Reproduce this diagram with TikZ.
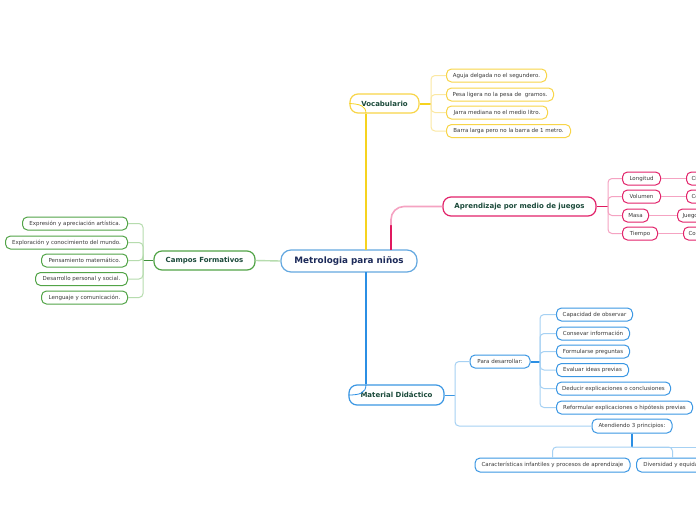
\documentclass[tikz,border=0pt]{standalone}
\usepackage{fontspec}
\setmainfont{DejaVu Sans}
\definecolor{rootb}{HTML}{64A8E0}
\definecolor{navy}{HTML}{1C2A59}
\definecolor{dkg}{HTML}{1B4A3A}
\definecolor{txt}{HTML}{3A3A3A}
\definecolor{bl}{HTML}{3B97E3}
\definecolor{blt}{HTML}{2B8FE4}
\definecolor{bll}{HTML}{A6D1F3}
\definecolor{yl}{HTML}{F8D548}
\definecolor{ylt}{HTML}{F6D31F}
\definecolor{yll}{HTML}{FBE8A3}
\definecolor{pk}{HTML}{E2236A}
\definecolor{pkt}{HTML}{E0195F}
\definecolor{pkl}{HTML}{F5A3C2}
\definecolor{gr}{HTML}{52A447}
\definecolor{grt}{HTML}{3F8F3A}
\definecolor{grl}{HTML}{B6DCAE}
\tikzset{
  leaf/.style={draw, fill=white, rounded corners=5pt, minimum height=13pt, inner sep=0pt,
    line width=1pt, text=txt, font=\fontsize{5.5}{6}\selectfont},
  cutleaf/.style={leaf, inner xsep=5pt, anchor=west},
  topic/.style={draw, fill=white, rounded corners=8pt, minimum height=19pt, inner sep=0pt,
    line width=1.2pt, text=dkg, font=\fontsize{7}{8}\selectfont\bfseries},
  rootnode/.style={draw=rootb, fill=white, rounded corners=10pt, minimum height=22pt, inner sep=0pt,
    line width=1.2pt, text=navy, font=\fontsize{8.8}{10}\selectfont\bfseries},
  ythick/.style={draw=ylt, line width=2.6pt},
  ylight/.style={draw=yll, line width=1pt, rounded corners=4pt},
  pthick/.style={draw=pkt, line width=2.6pt},
  plight/.style={draw=pkl, line width=1pt, rounded corners=4pt},
  bthick/.style={draw=blt, line width=2.6pt},
  blight/.style={draw=bll, line width=1pt, rounded corners=4pt},
  gthick/.style={draw=grt, line width=1.4pt},
  glight/.style={draw=grl, line width=1pt, rounded corners=4pt},
}
\begin{document}
\begin{tikzpicture}[x=1pt,y=-1pt]
\clip (0,0) rectangle (696,520);
\fill[white] (0,0) rectangle (696,520);

% coordinates
\coordinate (ty) at (366,250);
\coordinate (tb) at (366,272);
\coordinate (tp) at (391,250);
\coordinate (vj) at (431,103.5);
\coordinate (aj) at (608,206.5);
\coordinate (cj) at (143,260.5);
\coordinate (mj) at (455,395);
\coordinate (pj) at (540,361.5);
\coordinate (atj) at (632,447);
\coordinate (atend) at (700,447);

% ---------- nodes ----------
\node[rootnode, minimum width=136pt] (c) at (349,261) {Metrologia para niños};
\node[topic, draw=yl, minimum width=69pt] (voc) at (384.5,103.5) {Vocabulario};
\node[topic, draw=pk, minimum width=153pt] (ap) at (519.5,206.5) {Aprendizaje por medio de juegos};
\node[topic, draw=gr, minimum width=101pt] (cf) at (204.5,260.5) {Campos Formativos};
\node[topic, draw=bl, minimum width=95pt, minimum height=20pt] (md) at (396.5,395) {Material Didáctico};

% vocabulario leaves
\node[leaf, draw=yl, anchor=west, minimum width=100pt] (y1) at (446,75.5) {Aguja delgada no el segundero.};
\node[leaf, draw=yl, anchor=west, minimum width=107pt] (y2) at (446,94.5) {Pesa ligera no la pesa de \ gramos.};
\node[leaf, draw=yl, anchor=west, minimum width=101pt] (y3) at (446,112.5) {Jarra mediana no el medio litro.};
\node[leaf, draw=yl, anchor=west, minimum width=124pt] (y4) at (446,131) {Barra larga pero no la barra de 1 metro.};

% juegos leaves
\node[leaf, draw=pk, anchor=west, minimum width=38pt] (l1) at (622,178.5) {Longitud};
\node[leaf, draw=pk, anchor=west, minimum width=38pt] (l2) at (622,196.5) {Volumen};
\node[leaf, draw=pk, anchor=west, minimum width=26pt] (l3) at (622,215.5) {Masa};
\node[leaf, draw=pk, anchor=west, minimum width=35pt] (l4) at (622,233.5) {Tiempo};
\node[cutleaf, draw=pk] (g1) at (686,178.5) {Cinta métrica};
\node[cutleaf, draw=pk] (g2) at (686,196.5) {Contenedores};
\node[cutleaf, draw=pk] (g3) at (677,215.5) {Juegos de balanza};
\node[cutleaf, draw=pk] (g4) at (683,233.5) {Con reloj};

% campos leaves
\node[leaf, draw=gr, anchor=east, minimum width=105pt] (e1) at (128,223.5) {Expresión y apreciación artística.};
\node[leaf, draw=gr, anchor=east, minimum width=122pt] (e2) at (128,242.5) {Exploración y conocimiento del mundo.};
\node[leaf, draw=gr, anchor=east, minimum width=86pt] (e3) at (128,260.5) {Pensamiento matemático.};
\node[leaf, draw=gr, anchor=east, minimum width=92pt] (e4) at (128,279) {Desarrollo personal y social.};
\node[leaf, draw=gr, anchor=east, minimum width=86pt] (e5) at (128,297.5) {Lenguaje y comunicación.};

% material
\node[leaf, draw=bl, minimum width=60pt] (pd) at (500,361.5) {Para desarrollar:};
\node[leaf, draw=bl, anchor=west, minimum width=76pt] (b1) at (556,314.5) {Capacidad de observar};
\node[leaf, draw=bl, anchor=west, minimum width=73pt] (b2) at (556,333.5) {Consevar información};
\node[leaf, draw=bl, anchor=west, minimum width=73pt] (b3) at (556,351.5) {Formularse preguntas};
\node[leaf, draw=bl, anchor=west, minimum width=72pt] (b4) at (556,370) {Evaluar ideas previas};
\node[leaf, draw=bl, anchor=west, minimum width=114pt] (b5) at (556,388.5) {Deducir explicaciones o conclusiones};
\node[leaf, draw=bl, anchor=west, minimum width=136pt] (b6) at (556,407.5) {Reformular explicaciones o hipótesis previas};
\node[leaf, draw=bl, minimum width=80pt, minimum height=14pt] (at) at (632,426) {Atendiendo 3 principios:};
\node[leaf, draw=bl, minimum width=155pt, minimum height=14pt] (p1) at (552.5,465) {Características infantiles y procesos de aprendizaje};
\node[leaf, draw=bl, anchor=west, minimum width=72pt, minimum height=14pt] (p2) at (636,465) {Diversidad y equidad};

% ---------- connectors ----------
% trunks
\draw[ythick] (ty) -- (ty |- voc.south);
\draw[draw=ylt, line width=0.8pt] (ty |- voc.south) .. controls (366,106) and (360,104) .. (voc.west);
\draw[bthick] (tb) -- (tb |- md.north);
\draw[draw=blt, line width=0.8pt] (tb |- md.north) .. controls (366,393) and (360,395) .. (md.west);
\draw[pthick] (tp) -- (391,224);
\draw[draw=pkl, line width=1.6pt, rounded corners=13pt] (391,225) |- (ap.west);
\draw[draw=grl, line width=1.4pt] (c.west) -- (cf.east);

% vocabulario
\draw[ythick, line width=2pt] (voc.east) -- (vj);
\foreach \n in {y1,y2,y3,y4} \draw[ylight] (vj) |- (\n.west);

% juegos
\draw[pthick, line width=1.6pt] (ap.east) -- (aj);
\foreach \n in {l1,l2,l3,l4} \draw[plight] (aj) |- (\n.west);
\draw[draw=pkl, line width=1.2pt] (l1.east) -- (g1.west);
\draw[draw=pkl, line width=1.2pt] (l2.east) -- (g2.west);
\draw[draw=pkl, line width=1.2pt] (l3.east) -- (g3.west);
\draw[draw=pkl, line width=1.2pt] (l4.east) -- (g4.west);

% campos
\draw[gthick] (cf.west) -- (cj);
\foreach \n in {e1,e2,e3,e4,e5} \draw[glight] (cj) |- (\n.east);

% material
\draw[draw=bl, line width=1pt] (md.east) -- (mj);
\draw[blight] (mj) |- (pd.west);
\draw[blight] (mj) |- (at.west);
\draw[bthick, line width=2pt] (pd.east) -- (pj);
\foreach \n in {b1,b2,b3,b4,b5,b6} \draw[blight] (pj) |- (\n.west);
\draw[bthick, line width=2pt] (at.south) -- (atj);
\draw[blight] (atj) -| (p1.north);
\draw[blight] (atj) -| (p2.north);
\draw[blight] (atj) -- (atend);
\end{tikzpicture}
\end{document}
